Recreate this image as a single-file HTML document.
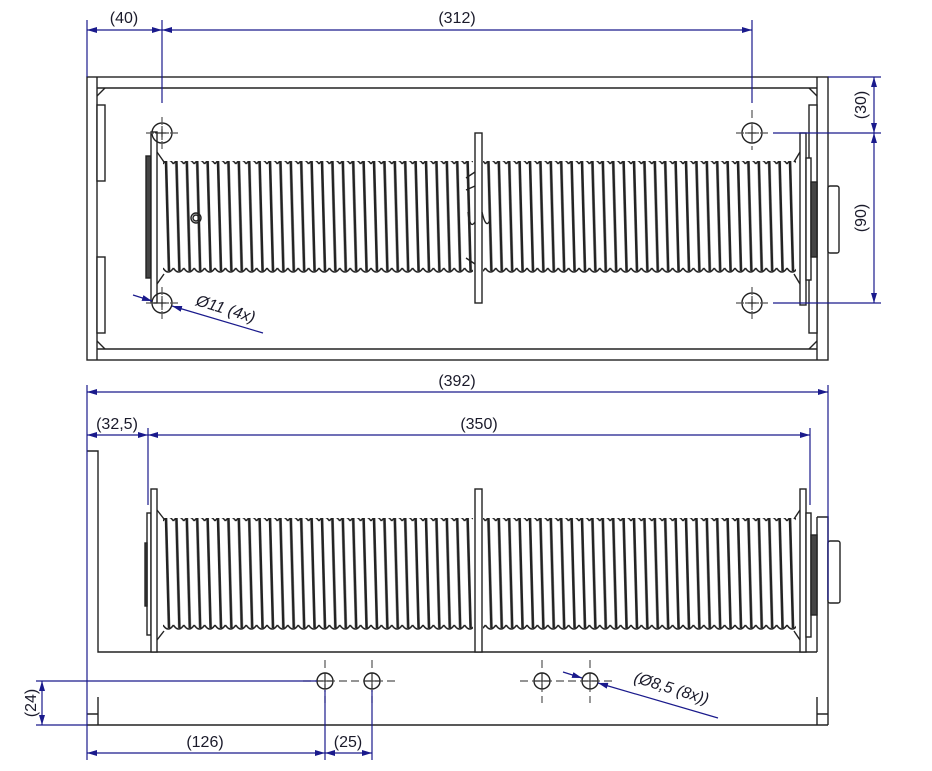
<!DOCTYPE html>
<html><head><meta charset="utf-8"><style>
html,body{margin:0;padding:0;background:#fff;}
svg{display:block;}
text{font-family:"Liberation Sans",sans-serif;font-size:16px;fill:#1a1a2a;}
</style></head><body>
<svg width="932" height="771" viewBox="0 0 932 771" xmlns="http://www.w3.org/2000/svg">
<defs>
<marker id="a" viewBox="0 0 10 6" refX="10" refY="3" markerWidth="10" markerHeight="6" orient="auto-start-reverse" markerUnits="userSpaceOnUse"><path d="M0,0 L10,3 L0,6 z" fill="#1a1a8c"/></marker>
<pattern id="c1" patternUnits="userSpaceOnUse" x="163" y="157" width="10.4" height="122">
<rect width="10.4" height="122" fill="#fff"/>
<path d="M0,7 Q5.2,-1 10.4,7" fill="none" stroke="#222" stroke-width="1.5"/>
<path d="M0,111 Q5.2,119 10.4,111" fill="none" stroke="#222" stroke-width="1.5"/>
<path d="M3,4 L6,114" stroke="#222" stroke-width="2.6"/>
</pattern>
<pattern id="c2" patternUnits="userSpaceOnUse" x="163" y="514" width="10.4" height="122">
<rect width="10.4" height="122" fill="#fff"/>
<path d="M0,7 Q5.2,-1 10.4,7" fill="none" stroke="#222" stroke-width="1.5"/>
<path d="M0,111 Q5.2,119 10.4,111" fill="none" stroke="#222" stroke-width="1.5"/>
<path d="M3,4 L6,114" stroke="#222" stroke-width="2.6"/>
</pattern>
</defs>

<g fill="none" stroke="#222" stroke-width="1.4">
<rect x="87" y="77" width="741" height="283"/>
<line x1="97" y1="77" x2="97" y2="360"/>
<line x1="817" y1="77" x2="817" y2="360"/>
<line x1="97" y1="88" x2="817" y2="88"/>
<line x1="97" y1="349" x2="817" y2="349"/>
<path d="M97,96 L105,88 M97,341 L105,349 M817,96 L809,88 M817,341 L809,349"/>
<rect x="97" y="105" width="8" height="76" fill="#fff"/>
<rect x="97" y="257" width="8" height="76" fill="#fff"/>
<rect x="809" y="105" width="8" height="228" fill="#fff"/>
<rect x="828" y="186" width="11" height="67" rx="2" fill="#fff"/>
<rect x="163" y="161" width="310" height="114" fill="url(#c1)" stroke="none"/>
<rect x="483" y="161" width="313" height="114" fill="url(#c1)" stroke="none"/>
<path d="M157,152 L164,162 M157,284 L164,274 M800,152 L794,162 M800,284 L794,274"/>
<rect x="146" y="156" width="5" height="122" fill="#444"/>
<rect x="151" y="132" width="6" height="171" fill="#fff"/>
<rect x="800" y="133" width="6" height="172" fill="#fff"/>
<rect x="806" y="158" width="5" height="122" fill="#fff"/>
<rect x="811" y="182" width="6" height="75" fill="#444"/>
<rect x="475" y="133" width="7" height="170" fill="#fff"/>
<path d="M466,178 L475,172 M466,190 L475,186 M466,258 L475,264 M468,212 Q470,230 475,222 M482,212 Q486,230 490,220"/>
<circle cx="196" cy="218" r="5"/><circle cx="196" cy="218" r="3"/>
<circle cx="162" cy="133" r="10"/><circle cx="162" cy="303" r="10"/>
<circle cx="752" cy="133" r="10"/><circle cx="752" cy="303" r="10"/>

<path d="M87,451 L98,451 L98,652 L817,652"/>
<path d="M87,725 L828,725 M98,697 L98,725 M87,714 L98,714"/>
<path d="M817,517 L828,517 L828,725 M817,517 L817,652 M817,697 L817,725 M817,714 L828,714"/>
<rect x="828" y="541" width="12" height="62" rx="2" fill="#fff"/>
<rect x="163" y="518" width="310" height="114" fill="url(#c2)" stroke="none"/>
<rect x="483" y="518" width="313" height="114" fill="url(#c2)" stroke="none"/>
<path d="M157,510 L164,519 M157,640 L164,631 M800,510 L794,519 M800,640 L794,631"/>
<rect x="147" y="513" width="4" height="122" fill="#fff"/>
<rect x="145" y="543" width="2" height="63" fill="#444"/>
<rect x="151" y="489" width="6" height="163" fill="#fff"/>
<rect x="800" y="489" width="6" height="163" fill="#fff"/>
<rect x="806" y="513" width="5" height="124" fill="#fff"/>
<rect x="811" y="535" width="6" height="80" fill="#444"/>
<rect x="475" y="489" width="7" height="163" fill="#fff"/>
<circle cx="325" cy="681" r="8"/><circle cx="372" cy="681" r="8"/>
<circle cx="542" cy="681" r="8"/><circle cx="590" cy="681" r="8"/>
</g>

<g stroke="#555" stroke-width="1.2" fill="none" stroke-dasharray="8,4">
<path d="M146,133 H180 M162,117 V150 M146,303 H180 M162,287 V320"/>
<path d="M736,133 H770 M752,110 V150 M736,303 H770 M752,287 V320"/>
<path d="M303,681 H395 M325,660 V703 M372,660 V703 M520,681 H612 M542,660 V703 M590,660 V703"/>
</g>
<g stroke="#222" stroke-width="1" fill="none">
<path d="M155,133 H169 M162,126 V140 M155,303 H169 M162,296 V310 M745,133 H759 M752,126 V140 M745,303 H759 M752,296 V310"/>
<path d="M317,681 H333 M325,673 V689 M364,681 H380 M372,673 V689 M534,681 H550 M542,673 V689 M582,681 H598 M590,673 V689"/>
</g>

<g stroke="#1a1a8c" stroke-width="1.2" fill="none">
<path d="M87,20 V77 M162,20 V103 M752,20 V103"/>
<line x1="87" y1="30" x2="162" y2="30" marker-start="url(#a)" marker-end="url(#a)"/>
<line x1="162" y1="30" x2="752" y2="30" marker-start="url(#a)" marker-end="url(#a)"/>
<path d="M828,77 H881 M773,133 H881 M773,303 H881"/>
<line x1="874" y1="77" x2="874" y2="133" marker-start="url(#a)" marker-end="url(#a)"/>
<line x1="874" y1="133" x2="874" y2="303" marker-start="url(#a)" marker-end="url(#a)"/>
<line x1="133" y1="295" x2="152" y2="301" marker-end="url(#a)"/>
<line x1="263" y1="333" x2="172" y2="306" marker-end="url(#a)"/>

<path d="M87,385 V760 M828,385 V600 M148,428 V505 M810,428 V505"/>
<line x1="87" y1="392" x2="828" y2="392" marker-start="url(#a)" marker-end="url(#a)"/>
<line x1="87" y1="435" x2="148" y2="435" marker-start="url(#a)" marker-end="url(#a)"/>
<line x1="148" y1="435" x2="810" y2="435" marker-start="url(#a)" marker-end="url(#a)"/>
<path d="M36,681 H317 M36,725 H87 M325,690 V760 M372,690 V760"/>
<line x1="42" y1="681" x2="42" y2="725" marker-start="url(#a)" marker-end="url(#a)"/>
<line x1="87" y1="753" x2="325" y2="753" marker-start="url(#a)" marker-end="url(#a)"/>
<line x1="325" y1="753" x2="372" y2="753" marker-start="url(#a)" marker-end="url(#a)"/>
<line x1="563" y1="672" x2="582" y2="678" marker-end="url(#a)"/>
<line x1="718" y1="718" x2="598" y2="683" marker-end="url(#a)"/>
</g>

<g>
<text x="124" y="23" text-anchor="middle">(40)</text>
<text x="457" y="23" text-anchor="middle">(312)</text>
<text transform="translate(866,105) rotate(-90)" text-anchor="middle">(30)</text>
<text transform="translate(866,218) rotate(-90)" text-anchor="middle">(90)</text>
<text transform="translate(195,305) rotate(17)" font-style="italic" font-size="18">Ø11 (4x)</text>
<text x="457" y="386" text-anchor="middle">(392)</text>
<text x="117" y="429" text-anchor="middle">(32,5)</text>
<text x="479" y="429" text-anchor="middle">(350)</text>
<text transform="translate(36,703) rotate(-90)" text-anchor="middle">(24)</text>
<text x="205" y="747" text-anchor="middle">(126)</text>
<text x="348" y="747" text-anchor="middle">(25)</text>
<text transform="translate(633,682) rotate(17)" font-style="italic" font-size="18">(Ø8,5 (8x))</text>
</g>
</svg>
</body></html>
